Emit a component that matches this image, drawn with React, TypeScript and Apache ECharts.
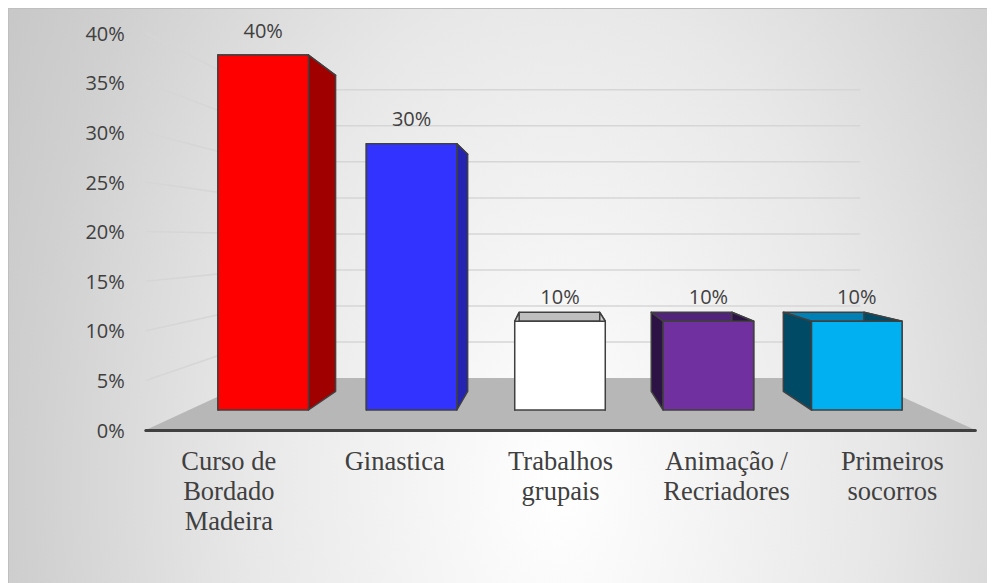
import React, { useEffect, useRef } from 'react';
import * as echarts from 'echarts';

// ---- data ----
const categories = [
  'Curso de\nBordado\nMadeira',
  'Ginastica',
  'Trabalhos\ngrupais',
  'Animação /\nRecriadores',
  'Primeiros\nsocorros',
];
const values = [40, 30, 10, 10, 10];
const yTicks = [0, 5, 10, 15, 20, 25, 30, 35, 40];
const frontColors = ['#ff0000', '#3333ff', '#ffffff', '#7030a0', '#00b0f0'];
const sideColors = ['#a00000', '#2424b0', '#d0d0d0', '#2d1245', '#004a66'];
const topColors = ['#c00000', '#2828c8', '#bfbfbf', '#52237a', '#0080b4'];

// ---- layout / perspective ----
const W = 987;
const H = 575;
const VP = [547, 232];
const S_FRONT = 1.118; // front edge of floor / value axis wall
const S_BACK = 0.812; // back wall
const S_BAR_BACK = 0.89; // back faces of the bars
const G0 = { left: 181, right: 64, top: 47, bottom: 173 };

const proj = (x: number, y: number, s: number): number[] => [
  VP[0] + (x - VP[0]) * s,
  VP[1] + (y - VP[1]) * s,
];

// derived front-wall grid (projection of bar plane to S_FRONT)
const g0x0 = G0.left;
const g0x1 = W - G0.right;
const g0y0 = G0.top;
const g0y1 = H - G0.bottom;
const f0 = proj(g0x0, g0y0, S_FRONT);
const f1 = proj(g0x1, g0y1, S_FRONT);
const G1 = { left: f0[0], top: f0[1], right: W - f1[0], bottom: H - f1[1] };

export default function App() {
  const ref = useRef<HTMLDivElement>(null);
  useEffect(() => {
    if (!ref.current) return;
    const chart = echarts.init(ref.current, null, { renderer: 'svg' });
    const k = 1.6;
    const option: any = {
      animation: false,
      backgroundColor: '#ffffff',
      graphic: {
        elements: [
          {
            type: 'rect',
            z: -100,
            silent: true,
            scaleY: k,
            shape: { x: 0, y: 0, width: W, height: H / k },
            style: {
              fill: new echarts.graphic.RadialGradient(
                550,
                480 / k,
                620,
                [
                  { offset: 0, color: '#ffffff' },
                  { offset: 0.5, color: '#e8e8e8' },
                  { offset: 0.85, color: '#d0d0d0' },
                  { offset: 1, color: '#c8c8c8' },
                ],
                true
              ),
            },
          },
          {
            type: 'polyline',
            z: -99,
            silent: true,
            shape: { points: [[0.5, H], [0.5, 0.5], [W, 0.5]] },
            style: { fill: null, stroke: '#bfbfbf', lineWidth: 1 },
          },
        ],
      },
      grid: [
        { left: G0.left, right: G0.right, top: G0.top, bottom: G0.bottom },
        { left: G1.left, right: G1.right, top: G1.top, bottom: G1.bottom },
      ],
      xAxis: [
        { type: 'category', gridIndex: 0, data: categories, show: false },
        {
          type: 'category',
          gridIndex: 1,
          data: categories,
          z: 5,
          axisLine: { lineStyle: { color: '#404040', width: 3 } },
          axisTick: { show: false },
          axisLabel: {
            interval: 0,
            margin: 16,
            color: '#404040',
            fontFamily: '"Liberation Serif", "Times New Roman", serif',
            fontSize: 26.5,
            lineHeight: 30,
          },
        },
      ],
      yAxis: [
        { type: 'value', gridIndex: 0, min: 0, max: 40, interval: 5, show: false },
        {
          type: 'value',
          gridIndex: 1,
          min: 0,
          max: 40,
          interval: 5,
          axisLine: { show: false },
          axisTick: { show: false },
          splitLine: { show: false },
          axisLabel: {
            formatter: '{value}%',
            color: '#404040',
            fontFamily: '"Open Sans", sans-serif',
            fontSize: 20,
            margin: 21,
          },
        },
      ],
      series: [
        {
          type: 'custom',
          name: 'gridlines',
          xAxisIndex: 0,
          yAxisIndex: 0,
          z: 1,
          silent: true,
          data: yTicks.filter((v) => v > 0).map((v) => [0, v]),
          renderItem: (params: any, api: any) => {
            const cs = params.coordSys;
            const y = api.coord([0, api.value(1)])[1];
            const xl = cs.x;
            const xr = cs.x + cs.width;
            return {
              type: 'polyline',
              shape: { points: [proj(xl, y, S_FRONT), proj(xl, y, S_BACK), proj(xr, y, S_BACK)] },
              style: { stroke: '#d6d6d6', lineWidth: 1.5, fill: null },
            };
          },
        },
        {
          type: 'custom',
          name: 'floor',
          xAxisIndex: 0,
          yAxisIndex: 0,
          z: 1,
          silent: true,
          data: [[0, 0]],
          renderItem: (params: any, api: any) => {
            const cs = params.coordSys;
            const y = api.coord([0, 0])[1];
            const xl = cs.x;
            const xr = cs.x + cs.width;
            return {
              type: 'polygon',
              shape: {
                points: [proj(xl, y, S_FRONT), proj(xr, y, S_FRONT), proj(xr, y, S_BACK), proj(xl, y, S_BACK)],
              },
              style: { fill: '#b7b7b7' },
            };
          },
        },
        {
          type: 'custom',
          name: 'bars',
          xAxisIndex: 0,
          yAxisIndex: 0,
          z: 3,
          data: values.map((v, i) => [i, v]),
          encode: { x: 0, y: 1 },
          renderItem: (params: any, api: any) => {
            const i = api.value(0);
            const v = api.value(1);
            const c = api.coord([i, v]);
            const b = api.coord([i, 0]);
            const half = api.size([1, 0])[0] * 0.305;
            const xl = c[0] - half;
            const xr = c[0] + half;
            const yt = c[1];
            const yb = b[1];
            const B = (x: number, y: number) => proj(x, y, S_BAR_BACK);
            const st = (fill: string) => ({ fill, stroke: '#404040', lineWidth: 1.5, lineJoin: 'round' });
            return {
              type: 'group',
              children: [
                { type: 'polygon', shape: { points: [[xl, yt], [xr, yt], B(xr, yt), B(xl, yt)] }, style: st(topColors[i]) },
                { type: 'polygon', shape: { points: [[xl, yt], B(xl, yt), B(xl, yb), [xl, yb]] }, style: st(sideColors[i]) },
                { type: 'polygon', shape: { points: [[xr, yt], B(xr, yt), B(xr, yb), [xr, yb]] }, style: st(sideColors[i]) },
                { type: 'rect', shape: { x: xl, y: yt, width: xr - xl, height: yb - yt }, style: st(frontColors[i]) },
                {
                  type: 'text',
                  x: c[0],
                  y: yt - 25,
                  style: {
                    text: v + '%',
                    fill: '#404040',
                    fontSize: 20,
                    fontFamily: '"Open Sans", sans-serif',
                    align: 'center',
                    verticalAlign: 'middle',
                  },
                },
              ],
            };
          },
        },
      ],
    };
    chart.setOption(option);
    return () => chart.dispose();
  }, []);
  return <div ref={ref} style={{ width: W, height: H }} />;
}
